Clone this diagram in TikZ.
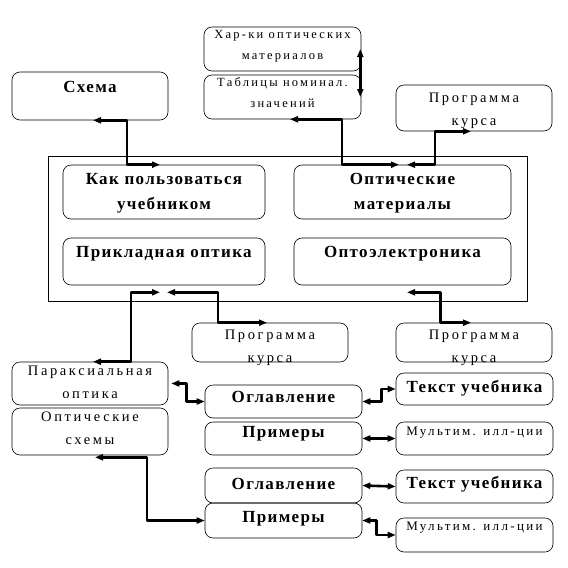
\documentclass[tikz,border=0pt]{standalone}
\usepackage{fontspec}
\setmainfont{Liberation Serif}
\newfontfamily\headfont[LetterSpace=8]{Liberation Serif}
\newfontfamily\notefont[LetterSpace=18]{Liberation Serif}
\usetikzlibrary{calc, positioning}
\usetikzlibrary{arrows.meta}

\begin{document}
\begin{tikzpicture}[x=1pt, y=-1pt, line join=round,
    box/.style={draw, rounded corners=8pt, inner sep=0pt, align=center, line width=0.6pt},
    head/.style={box, font=\headfont\bfseries\fontsize{17}{25}\selectfont},
    note/.style={box, font=\notefont\fontsize{14.5}{23}\selectfont},
    small/.style={box, font=\notefont\fontsize{12.5}{21}\selectfont},
    tiny/.style={box, font=\notefont\fontsize{13}{21}\selectfont},
    link/.style={line width=2.6pt,
        {Triangle[length=8pt,width=6pt]}-{Triangle[length=8pt,width=6pt]}}]
\useasboundingbox (0,0) rectangle (568,568);

% top row
\node[head, minimum width=156pt, text height=20pt, text depth=28pt] (schema) at (90,96) {Схема};
\node[small, minimum width=157pt, text height=32pt, text depth=12pt] (harki) at (282.5,49) {Хар-ки оптических\\материалов};
\node[small, minimum width=157pt, text height=32pt, text depth=12pt] (tabl) at (282.5,97) {Таблицы номинал.\\значений};
\node[note, minimum width=156pt, text height=40pt, text depth=6pt] (progtop) at (474,108) {Программа\\курса};

% main block
\draw[line width=0.6pt] (48,156) rectangle (527,301);
\node[head, minimum width=202pt, text height=44pt, text depth=10pt] (kak) at (164,192) {Как пользоваться\\учебником};
\node[head, minimum width=217pt, text height=44pt, text depth=10pt] (optmat) at (402.5,192) {Оптические\\материалы};
\node[head, minimum width=202pt, text height=19pt, text depth=28pt] (prikl) at (164,261.5) {Прикладная оптика};
\node[head, minimum width=217pt, text height=19pt, text depth=28pt] (optoel) at (402.5,261.5) {Оптоэлектроника};

% below the block
\node[note, minimum width=156pt, text height=39pt, text depth=-4pt] (progmid) at (270,342.5) {Программа\\курса};
\node[note, minimum width=156pt, text height=39pt, text depth=-4pt] (progright) at (474,342.5) {Программа\\курса};
\node[note, minimum width=156pt, text height=36pt, text depth=7pt] (parax) at (90,383.5) {Параксиальная\\оптика};
\node[note, minimum width=156pt, text height=36pt, text depth=11pt] (opsch) at (90,431.5) {Оптические\\схемы};

% contents and examples
\node[head, minimum width=157pt, text height=17pt, text depth=16pt] (oglA) at (283.5,401.5) {Оглавление};
\node[head, minimum width=157pt, text height=15pt, text depth=18pt] (primA) at (283.5,438.5) {Примеры};
\node[head, minimum width=157pt, text height=19pt, text depth=13pt] (textA) at (474.5,389) {Текст учебника};
\node[tiny, minimum width=157pt, text height=13pt, text depth=20pt] (multA) at (474.5,438.5) {Мультим. илл-ции};
\node[head, minimum width=157pt, text height=21pt, text depth=14pt] (oglB) at (283.5,485.5) {Оглавление};
\node[head, minimum width=157pt, text height=19pt, text depth=16pt] (primB) at (283.5,520.5) {Примеры};
\node[head, minimum width=157pt, text height=18pt, text depth=15pt] (textB) at (474.5,486.5) {Текст учебника};
\node[tiny, minimum width=157pt, text height=12pt, text depth=22pt] (multB) at (474.5,535) {Мультим. илл-ции};

% connectors
\draw[link] ([xshift=3pt]schema.south) -- ++(34,0) |- ([xshift=-4pt]kak.north);
\draw[link] ([xshift=7.5pt]tabl.south) -- ++(52,0) |- ([xshift=-3.5pt]optmat.north);
\draw[link] ([xshift=-3pt]progtop.south) -- ++(-36,0) |- ([xshift=4.5pt]optmat.north);
\draw[link] ([xshift=-1pt]harki.east) -- ([xshift=-1pt]tabl.east);
\draw[link] ([xshift=3pt]parax.north) -- ++(38,0) |- ([xshift=-4pt,yshift=-7pt]prikl.south);
\draw[link] ([xshift=3pt,yshift=-7pt]prikl.south) -- ++(51,0) |- ([xshift=-3pt]progmid.north);
\draw[link] ([xshift=4.5pt,yshift=-7pt]optoel.south) -- ++(33.5,0) |- ([xshift=-3pt]progright.north);
\draw[link] ([xshift=3pt]parax.east) -- ++(15,0) |- (oglA.west);
\draw[link] (oglA.east) -- ++(19,0) |- (textA.west);
\draw[link] (primA.east) -- (multA.west);
\draw[link] ([xshift=5pt,yshift=-2pt]opsch.south) -- ++(52,0) |- (primB.west);
\draw[link] (oglB.east) -- (textB.west);
\draw[link] (primB.east) -- ++(14,0) |- (multB.west);
\end{tikzpicture}
\end{document}
